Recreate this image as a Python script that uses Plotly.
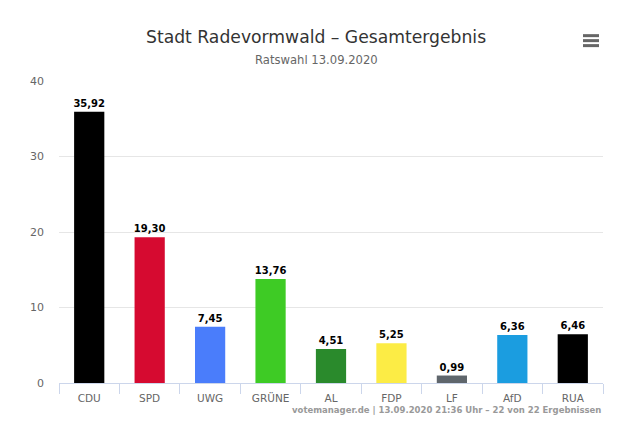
import plotly.graph_objects as go

parties = ["CDU", "SPD", "UWG", "GRÜNE", "AL", "FDP", "LF", "AfD", "RUA"]
shares = [35.92, 19.30, 7.45, 13.76, 4.51, 5.25, 0.99, 6.36, 6.46]
colors = ["#000000", "#d60a30", "#4a7dfb", "#3ecb25", "#2a8a2c", "#fcec45", "#5f666c", "#1b9de0", "#000000"]
y_ticks = [0, 10, 20, 30, 40]
title = "Stadt Radevormwald – Gesamtergebnis"
subtitle = "Ratswahl 13.09.2020"
credit = "votemanager.de | 13.09.2020 21:36 Uhr – 22 von 22 Ergebnissen"

W, H = 632, 439
L, R, T, B = 59, 603, 80.5, 383.5
FONT = "DejaVu Sans"

fig = go.Figure(go.Bar(
    x=parties, y=shares, marker_color=colors, marker_line_width=0, width=0.5,
    text=[f"{v:.2f}".replace(".", ",") for v in shares],
    textposition="outside", cliponaxis=False, constraintext="none",
    textfont=dict(family=FONT, size=10, color="#000000", weight="bold"),
    hoverinfo="x+y",
))

fig.update_layout(
    width=W, height=H, autosize=False,
    margin=dict(l=L, r=W - R, t=T, b=H - B, pad=0),
    paper_bgcolor="#ffffff", plot_bgcolor="#ffffff",
    showlegend=False, font=dict(family=FONT),
    xaxis=dict(
        type="category", tickson="boundaries", ticks="outside", ticklen=10, tickwidth=1,
        tickcolor="#ccd6eb", linecolor="#ccd6eb", linewidth=1, showline=True, showgrid=False,
        tickfont=dict(family=FONT, size=10.5, color="#666666"), fixedrange=True,
        ticklabelstandoff=5,
    ),
    yaxis=dict(
        range=[0, 40], tickvals=y_ticks, showgrid=True, gridcolor="#e6e6e6", gridwidth=1,
        zeroline=False, showline=False, ticks="", ticklabelstandoff=14,
        tickfont=dict(family=FONT, size=11, color="#666666"), fixedrange=True,
    ),
    annotations=[
        dict(text=title, xref="paper", yref="paper", x=(316 - L) / (R - L), y=(H - 36 - (H - B)) / (B - T),
             xanchor="center", yanchor="middle", showarrow=False,
             font=dict(family=FONT, size=17.2, color="#333333")),
        dict(text=subtitle, xref="paper", yref="paper", x=(316 - L) / (R - L), y=(H - 59 - (H - B)) / (B - T),
             xanchor="center", yanchor="middle", showarrow=False,
             font=dict(family=FONT, size=11.6, color="#666666")),
        dict(text=credit, xref="paper", yref="paper", x=1, y=(H - 411 - (H - B)) / (B - T),
             xanchor="right", yanchor="middle", showarrow=False,
             font=dict(family=FONT, size=8.5, color="#999999", weight="bold")),
    ],
    shapes=[
        dict(type="line", xref="paper", yref="paper",
             x0=(583 - L) / (R - L), x1=(599 - L) / (R - L),
             y0=(H - py - (H - B)) / (B - T), y1=(H - py - (H - B)) / (B - T),
             line=dict(color="#666666", width=3))
        for py in (35, 40, 45)
    ],
)

fig.write_html("out.html", config={"displayModeBar": False},
               post_script="document.body.style.margin='0';")
